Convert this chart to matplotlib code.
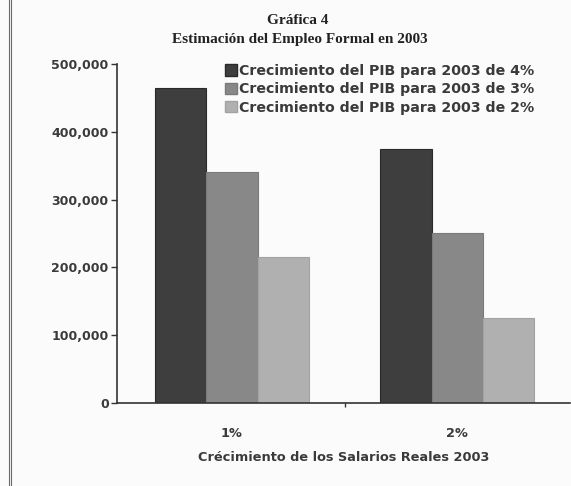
import matplotlib
matplotlib.use("Agg")
import matplotlib.pyplot as plt
from matplotlib.lines import Line2D
from matplotlib.patches import Patch
import numpy as np

# Data: estimated formal employment in 2003
categories = ["1%", "2%"]
series_labels = [
    "Crecimiento del PIB para 2003 de 4%",
    "Crecimiento del PIB para 2003 de 3%",
    "Crecimiento del PIB para 2003 de 2%",
]
pib_4 = [465000, 374000]
pib_3 = [341000, 250000]
pib_2 = [215000, 126000]
y_ticks = [0, 100000, 200000, 300000, 400000, 500000]

colors = ["#3e3e3e", "#888888", "#b0b0b0"]
edge_colors = ["#2a2a2a", "#7a7a7a", "#a2a2a2"]
text_color = "#3a3a3a"
sans = "DejaVu Sans"
serif = "Liberation Serif"

W, H = 571, 486
fig = plt.figure(figsize=(W / 100, H / 100), dpi=100)
fig.patch.set_facecolor("#fbfbfb")

ax = fig.add_axes([117 / W, 1 - 403 / H, (570 - 117) / W, (403 - 64) / H])
ax.set_facecolor("#fbfbfb")

x = np.arange(len(categories))
width = 0.228
for i, vals in enumerate([pib_4, pib_3, pib_2]):
    ax.bar(x + (i - 1) * width, vals, width, color=colors[i],
           edgecolor=edge_colors[i], linewidth=0.8, zorder=2)

ax.set_xlim(-0.51, 1.5)
ax.set_ylim(0, 500000)

for s in ["top", "right"]:
    ax.spines[s].set_visible(False)
for s in ["left", "bottom"]:
    ax.spines[s].set_color("#333333")
    ax.spines[s].set_linewidth(1.2)

ax.set_yticks(y_ticks)
ax.set_yticklabels([f"{v:,}" for v in y_ticks], fontfamily=sans,
                   fontweight="bold", fontsize=9, color=text_color)
ax.tick_params(axis="y", direction="out", length=4, width=1, pad=2,
               color="#333333")

# Category separator tick plus category labels
ax.set_xticks([0.5])
ax.set_xticklabels([""])
ax.tick_params(axis="x", which="major", direction="out", length=3, width=1,
               color="#333333")
ax.set_xticks(x, minor=True)
ax.set_xticklabels(categories, minor=True, fontfamily=sans,
                   fontweight="bold", fontsize=9.3, color=text_color)
ax.tick_params(axis="x", which="minor", length=0, pad=17)

ax.set_xlabel("Crécimiento de los Salarios Reales 2003", fontfamily=sans,
              fontweight="bold", fontsize=9.3, color=text_color,
              labelpad=8)

# Titles
fig.text(298 / W, 1 - 20 / H, "Gráfica 4", ha="center", va="center",
         fontfamily=serif, fontweight="bold", fontsize=11, color="#222222")
fig.text(300 / W, 1 - 40 / H, "Estimación del Empleo Formal en 2003",
         ha="center", va="center", fontfamily=serif, fontweight="bold",
         fontsize=11, color="#222222")

# Legend
handles = [Patch(facecolor=colors[i], edgecolor=edge_colors[i])
           for i in range(3)]
leg = fig.legend(handles, series_labels, loc="upper left",
                 bbox_to_anchor=(225 / W, 1 - 64 / H), frameon=False,
                 handlelength=0.85, handleheight=0.85, handletextpad=0.12,
                 labelspacing=0.3, borderaxespad=0, borderpad=0,
                 prop={"family": sans, "weight": "bold", "size": 10.2})
for t in leg.get_texts():
    t.set_color(text_color)

# Left frame rule
for xp in (8.5, 10.5):
    fig.add_artist(Line2D([xp / W, xp / W], [0, 1], color="#6a6a6a",
                          linewidth=0.8, transform=fig.transFigure))

fig.savefig("out.png", dpi=100, facecolor=fig.get_facecolor())
